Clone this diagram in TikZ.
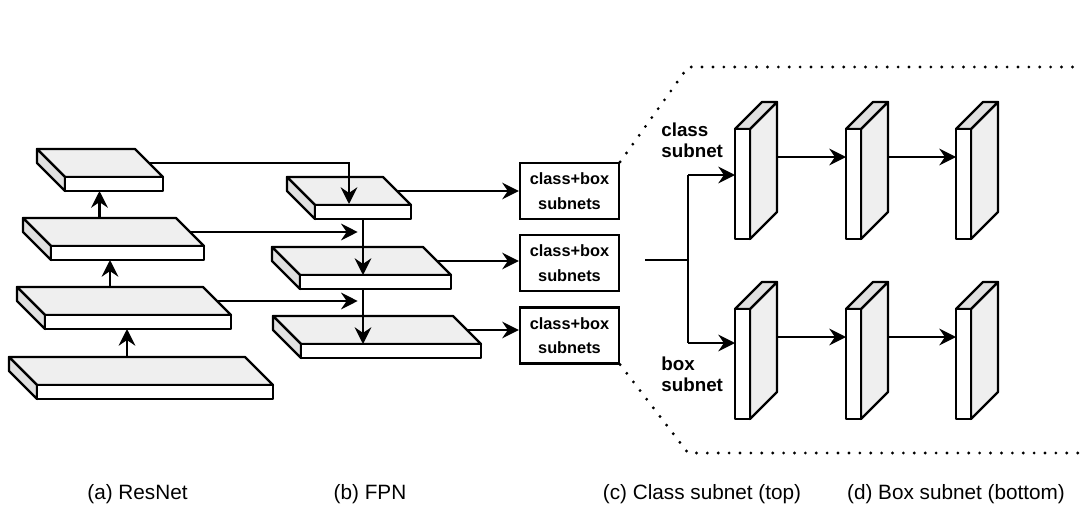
\documentclass[tikz,border=0pt]{standalone}
\usepackage{fontspec}
\setmainfont{Liberation Sans}
\usepackage{tikz}
\usetikzlibrary{arrows.meta,positioning,calc}

\definecolor{facelight}{HTML}{EFEFEF}
\definecolor{facedark}{HTML}{E0E0E0}

% flat feature map: name, back-left corner, width
\newcommand{\slab}[4]{%
  \filldraw[slabtop] (#2,#3) -- ++(#4,0) -- ++(28,28) -- ++(-#4,0) -- cycle;
  \filldraw[slabside] (#2,#3) -- ++(28,28) -- ++(0,14) -- ++(-28,-28) -- cycle;
  \filldraw[slabfront] ($(#2,#3)+(28,28)$) rectangle ++(#4,14);
  \coordinate (#1-n) at ($(#2,#3)+(#4/2,0)$);
  \coordinate (#1-e) at ($(#2,#3)+(#4+14,14)$);
  \coordinate (#1-f) at ($(#2,#3)+(28+#4/2,28)$);
  \coordinate (#1-s) at ($(#2,#3)+(28+#4/2,42)$);
}

% upright conv block: name, top-left of front face
\newcommand{\convblock}[3]{%
  \filldraw[slabtop] (#2+15,#3) -- ++(27,-27) -- ++(0,110) -- ++(-27,27) -- cycle;
  \filldraw[slabside] (#2,#3) -- ++(27,-27) -- ++(15,0) -- ++(-27,27) -- cycle;
  \filldraw[slabfront] (#2,#3) rectangle ++(15,110);
  \coordinate (#1) at (#2,#3);
  \coordinate (#1-o) at (#2+42,#3+28);
}

\begin{document}
\begin{tikzpicture}[
  x=0.02cm, y=-0.02cm,
  slabtop/.style={fill=facelight, draw=black, line width=1.3pt, line join=round},
  slabside/.style={fill=facedark, draw=black, line width=1.3pt, line join=round},
  slabfront/.style={fill=white, draw=black, line width=1.3pt, line join=round},
  line/.style={draw=black, line width=1.3pt},
  arrow/.style={line, -{Stealth[length=9.5pt, width=9.5pt, inset=3.2pt]}},
  subbox/.style={rectangle, draw=black, line width=1.3pt, minimum width=1.98cm,
                 minimum height=1.12cm, align=center,
                 font=\fontsize{9.3}{14}\selectfont\bfseries},
  tag/.style={align=left, anchor=west, inner sep=0pt,
              font=\fontsize{10.7}{12}\selectfont\bfseries},
  caption/.style={font=\fontsize{11.8}{14}\selectfont},
  dotline/.style={draw=black, line width=1.8pt, line cap=round,
                  dash pattern=on 0pt off 6.2pt},
  node distance=0.28cm
]
\useasboundingbox (0,0) rectangle (1083,507);

%% (a) ResNet
\slab{r1}{37}{149}{98}
\slab{r2}{23}{218}{153}
\slab{r3}{17}{287}{186}
\slab{r4}{9}{357}{236}

\draw[arrow] (r2-n) -- (r2-n |- r1-s);
\draw[arrow] (r3-n) -- (r3-n |- r2-s);
\draw[arrow] (r4-n) -- (r4-n |- r3-s);

%% (b) FPN
\slab{f1}{287}{177}{96}
\slab{f2}{272}{247}{151}
\slab{f3}{273}{316}{180}

\draw[arrow] (r1-e) -| ($(f1-f)+(-14,-1)$);
\draw[arrow, shorten >=3pt] (r2-e) -- (r2-e -| f1-s);
\draw[arrow, shorten >=3pt] (r3-e) -- (r3-e -| f1-s);
\draw[arrow] (f1-s) -- (f1-s |- f2-f);
\draw[arrow] (f1-s |- f2-s) -- (f1-s |- f3-f);

%% heads
\node[subbox] (b1) at (569.5,191) {class+box\\subnets};
\node[subbox, below=of b1] (b2) {class+box\\subnets};
\node[subbox, below=of b2] (b3) {class+box\\subnets};

\draw[arrow] (f1-e) -- (f1-e -| b1.west);
\draw[arrow] (f2-e) -- (f2-e -| b2.west);
\draw[arrow] (f3-e) -- (f3-e -| b3.west);

%% zoomed view of one head
\coordinate (zt) at (688,67);
\coordinate (zb) at (688,453);
\draw[dotline] (b1.north east) -- (zt) -- (1083,67);
\draw[dotline] (b3.south east) -- (zb) -- (1083,453);

%% (c) class subnet / (d) box subnet
\convblock{ct1}{735}{129}
\convblock{ct2}{846}{129}
\convblock{ct3}{956}{129}
\convblock{cb1}{735}{309}
\convblock{cb2}{846}{309}
\convblock{cb3}{956}{309}

\coordinate (jin) at (645,260);
\coordinate (jtop) at (688,175);
\coordinate (jbot) at (688,343);
\draw[line] (jin) -- (jin -| jtop);
\draw[line] (jtop) -- (jbot);
\draw[arrow] (jtop) -- (jtop -| ct1);
\draw[arrow] (jbot) -- (jbot -| cb1);

\draw[arrow] (ct1-o) -- (ct1-o -| ct2);
\draw[arrow] (ct2-o) -- (ct2-o -| ct3);
\draw[arrow] (cb1-o) -- (cb1-o -| cb2);
\draw[arrow] (cb2-o) -- (cb2-o -| cb3);

\node[tag] (tcls) at (661,140) {class\\subnet};
\node[tag] (tbox) at (661,374) {box\\subnet};

%% captions
\node[caption] (capa) at (137.5,494) {(a) ResNet};
\node[caption] (capb) at (370,494) {(b) FPN};
\node[caption] (capc) at (702,494) {(c) Class subnet (top)};
\node[caption] (capd) at (956,494) {(d) Box subnet (bottom)};

\end{tikzpicture}
\end{document}
